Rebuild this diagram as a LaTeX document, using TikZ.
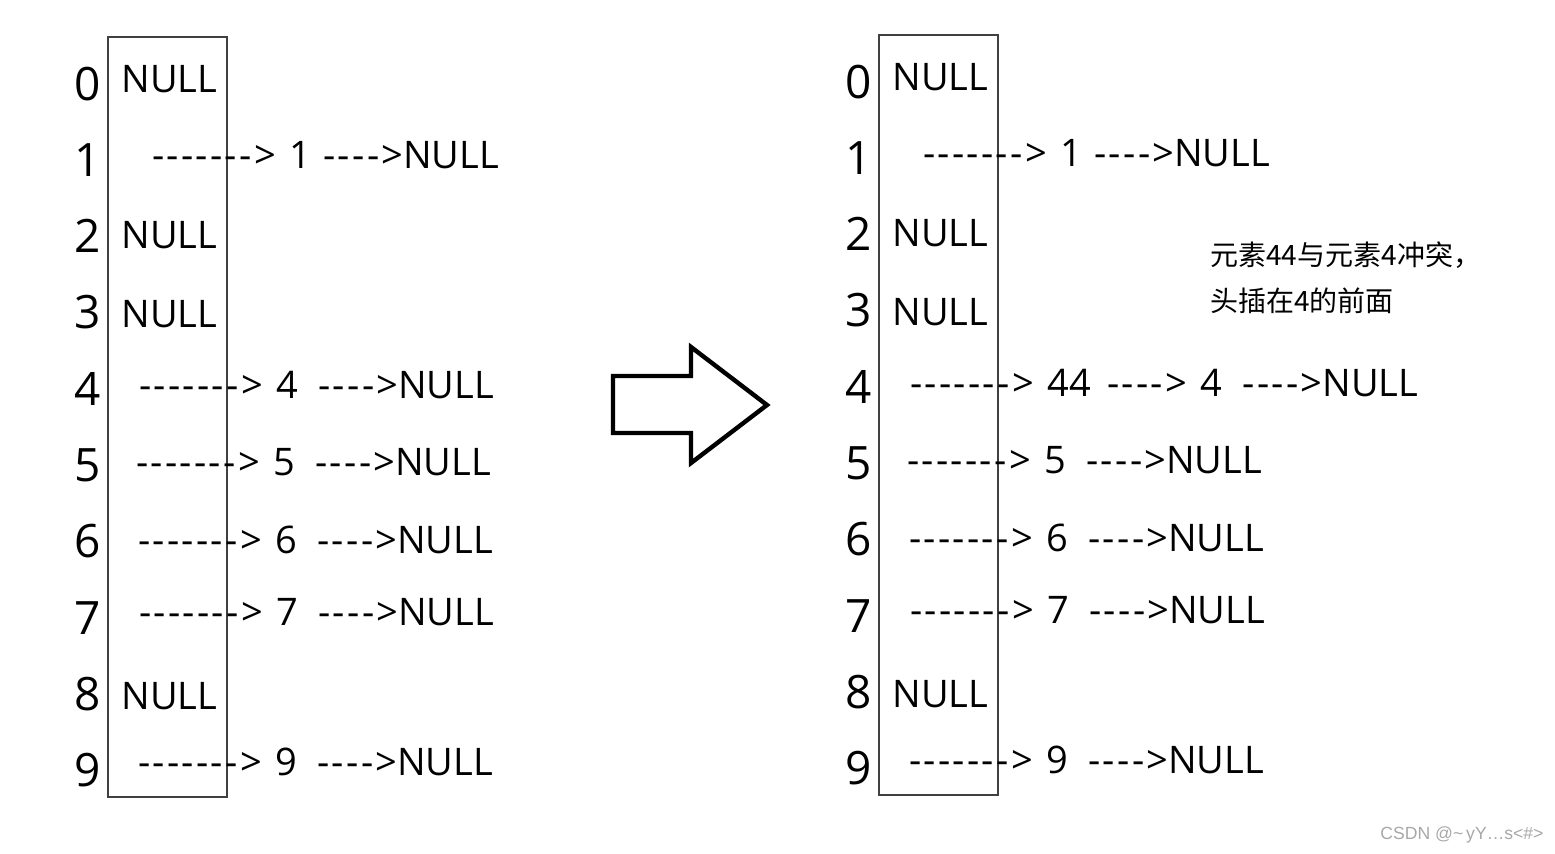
\documentclass[tikz,border=0pt]{standalone}
\usepackage{fontspec}
\newfontfamily\rowfont[Ligatures=TeXOff]{Open Sans}
\newfontfamily\arrowfont[Ligatures=TeXOff,LetterSpace=6]{Open Sans}
\newfontfamily\cjk{Noto Sans CJK SC}
\newfontfamily\markfont{Liberation Sans}
\definecolor{boxline}{HTML}{404040}
\definecolor{markgray}{HTML}{A8A8A8}
\newcommand{\ptr}{{\arrowfont ------->}}
\newcommand{\nxt}{{\arrowfont ---->}}

\begin{document}
\begin{tikzpicture}[x=0.5pt, y=-0.5pt,
    idx/.style={anchor=base, inner sep=0pt, font=\rowfont\fontsize{23}{23}\selectfont},
    cell/.style={anchor=base west, inner sep=0pt, font=\rowfont\fontsize{19}{19}\selectfont},
    note/.style={anchor=base west, inner sep=0pt, font=\cjk\fontsize{14}{14}\selectfont}]
    \fill[white] (0,0) rectangle (1555,853);
    \useasboundingbox (0,0) rectangle (1555,853);

    % table before insertion
    \draw[boxline, line width=0.75pt] (108,37) rectangle (227,797);
    \foreach \i in {0,...,9}
        \node[idx] (li\i) at (88,{100+76.3*\i}) {\i};
    \node[cell] (l0) at (121,92) {NULL};
    \node[cell] (l1) at (152,168) {\ptr\hspace{7pt}1\hspace{6pt}\nxt NULL};
    \node[cell] (l2) at (121,248) {NULL};
    \node[cell] (l3) at (121,327) {NULL};
    \node[cell] (l4) at (139,398) {\ptr\hspace{7pt}4\hspace{10pt}\nxt NULL};
    \node[cell] (l5) at (136,475) {\ptr\hspace{7pt}5\hspace{10pt}\nxt NULL};
    \node[cell] (l6) at (138,553) {\ptr\hspace{7pt}6\hspace{10pt}\nxt NULL};
    \node[cell] (l7) at (139,625) {\ptr\hspace{7pt}7\hspace{10pt}\nxt NULL};
    \node[cell] (l8) at (121,709) {NULL};
    \node[cell] (l9) at (138,775) {\ptr\hspace{7pt}9\hspace{10pt}\nxt NULL};

    % big hollow arrow
    \draw[line width=2.2pt, line join=miter] (613,376) -- (691,376) -- (691,347)
        -- (767,405) -- (691,463) -- (691,433) -- (613,433) -- cycle;

    % table after head insertion of 44
    \begin{scope}[shift={(771,-2)}]
        \draw[boxline, line width=0.75pt] (108,37) rectangle (227,797);
        \foreach \i in {0,...,9}
            \node[idx] (ri\i) at (88,{100+76.3*\i}) {\i};
        \node[cell] (r0) at (121,92) {NULL};
        \node[cell] (r1) at (152,168) {\ptr\hspace{7pt}1\hspace{6pt}\nxt NULL};
        \node[cell] (r2) at (121,248) {NULL};
        \node[cell] (r3) at (121,327) {NULL};
        \node[cell] (r4) at (139,398) {\ptr\hspace{7pt}44\hspace{8pt}\nxt\hspace{7pt}4\hspace{10pt}\nxt NULL};
        \node[cell] (r5) at (136,475) {\ptr\hspace{7pt}5\hspace{10pt}\nxt NULL};
        \node[cell] (r6) at (138,553) {\ptr\hspace{7pt}6\hspace{10pt}\nxt NULL};
        \node[cell] (r7) at (139,625) {\ptr\hspace{7pt}7\hspace{10pt}\nxt NULL};
        \node[cell] (r8) at (121,709) {NULL};
        \node[cell] (r9) at (138,775) {\ptr\hspace{7pt}9\hspace{10pt}\nxt NULL};
    \end{scope}

    % collision note
    \node[note] (n1) at (1210,265) {元素44与元素4冲突，};
    \node[note] (n2) at (1210,311) {头插在4的前面};

    % watermark
    \node[anchor=base west, inner sep=0pt, text=markgray,
        font=\markfont\fontsize{8.8}{8.8}\selectfont] (wm) at (1380,839) {CSDN @\textasciitilde\,yY…s<\#>};
\end{tikzpicture}
\end{document}
